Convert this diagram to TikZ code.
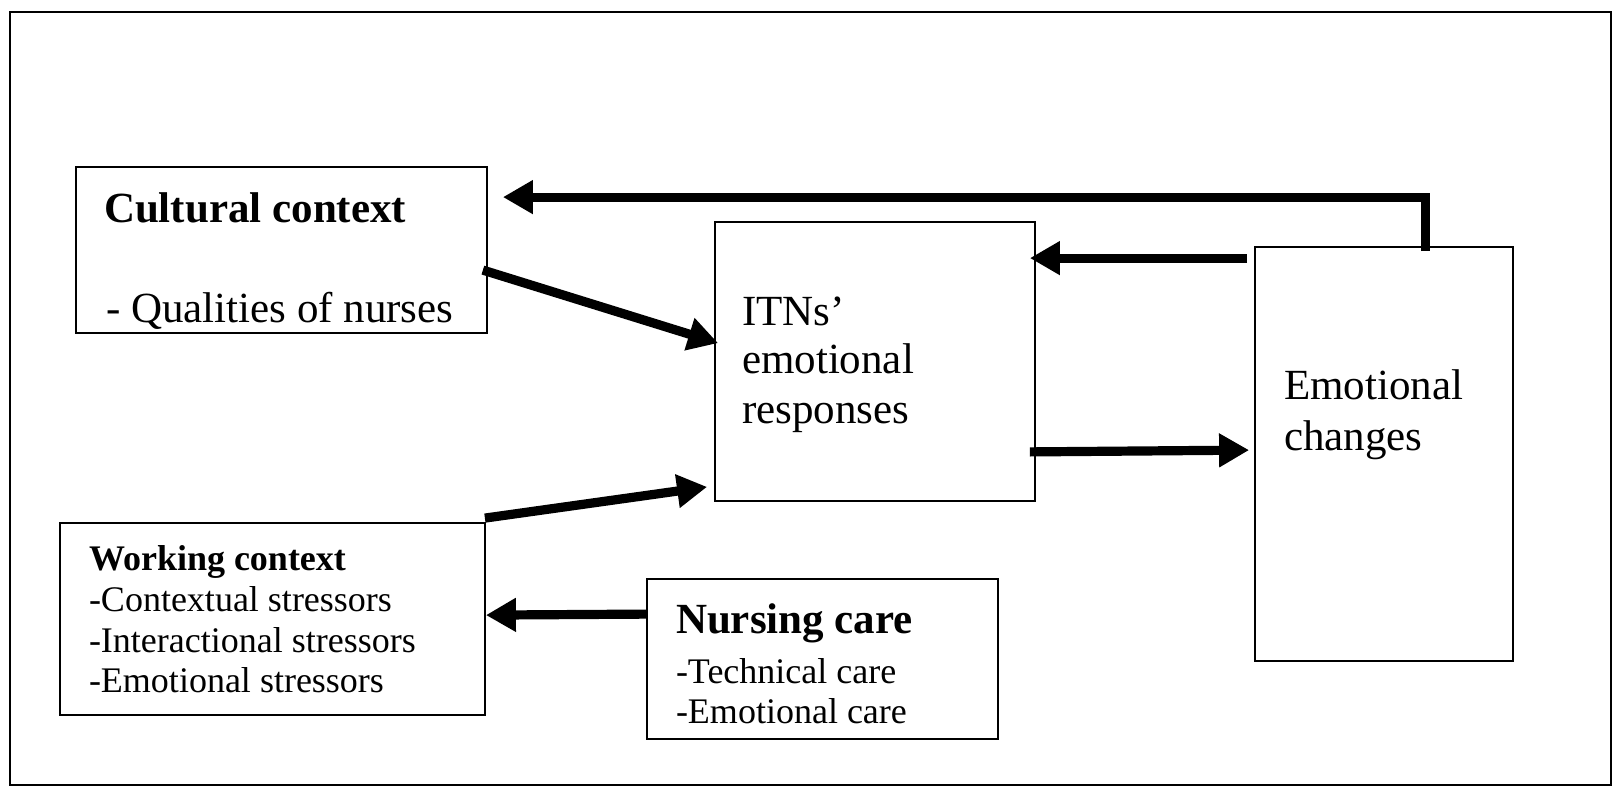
\documentclass[tikz,border=0pt]{standalone}
\usepackage{fontspec}
\setmainfont{Liberation Serif}
\usetikzlibrary{arrows.meta}

\begin{document}
\begin{tikzpicture}[x=0.5pt,y=-0.5pt,
  frame/.style={draw=black,line width=1.2pt},
  box/.style={draw=black,line width=0.9pt,rectangle,inner sep=0pt,fill=white},
  txt/.style={anchor=base west,inner sep=0pt,outer sep=0pt},
  big/.style={txt,font=\fontsize{21.5}{25}\selectfont},
  bigb/.style={txt,font=\fontsize{21.5}{25}\selectfont\bfseries},
  small/.style={txt,font=\fontsize{18}{20.5}\selectfont},
  smallb/.style={txt,font=\fontsize{18}{20.5}\selectfont\bfseries},
  flow/.style={line width=4.6pt,-{Triangle[length=15pt,width=16pt]}}
]
\useasboundingbox (0,0) rectangle (1617,792);
\draw[frame] (10,12) rectangle (1611,785);

% boxes
\node[box,minimum width=205.5pt,minimum height=83pt] (cult) at (281.5,250) {};
\node[box,minimum width=160pt,minimum height=139.5pt] (itn) at (875,361.5) {};
\node[box,minimum width=129pt,minimum height=207pt] (ec) at (1384,454) {};
\node[box,minimum width=212.5pt,minimum height=96pt] (work) at (272.5,619) {};
\node[box,minimum width=175.5pt,minimum height=80pt] (nurse) at (822.5,659) {};

% texts
\node[bigb] (c1) at (104,222) {Cultural context};
\node[big] (c2) at (106,322) {- Qualities of nurses};

\node[big] (i1) at (742,325) {ITNs’};
\node[big] (i2) at (742,373) {emotional};
\node[big] (i3) at (742,423) {responses};

\node[big] (e1) at (1284,399) {Emotional};
\node[big] (e2) at (1284,450) {changes};

\node[smallb] (w1) at (89,570) {Working context};
\node[small] (w2) at (89,611) {-Contextual stressors};
\node[small] (w3) at (89,652) {-Interactional stressors};
\node[small] (w4) at (89,692) {-Emotional stressors};

\node[bigb] (n1) at (676,633) {Nursing care};
\node[small] (n2) at (676,683) {-Technical care};
\node[small] (n3) at (676,723) {-Emotional care};

% connectors
\draw[flow] ([shift={(171,5)}]ec.north west) |- ([shift={(15,31)}]cult.north east);
\draw[flow] ([shift={(-7,12)}]ec.north west) -- ([shift={(-6,37)}]itn.north east);
\draw[flow] ([shift={(-5,104)}]cult.north east) -- ([shift={(4,122)}]itn.north west);
\draw[flow] ([shift={(-1,-4)}]work.north east) -- ([shift={(-7,-15)}]itn.south west);
\draw[flow] ([shift={(-6,-50)}]itn.south east) -- ([shift={(-5,204)}]ec.north west);
\draw[flow] ([shift={(0,36)}]nurse.north west) -- ([shift={(0,93)}]work.north east);
\end{tikzpicture}
\end{document}
